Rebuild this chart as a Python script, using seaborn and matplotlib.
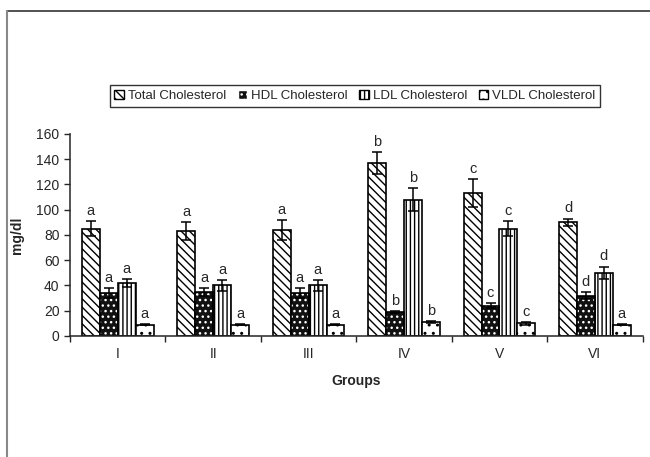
import matplotlib
matplotlib.use("Agg")
import matplotlib.pyplot as plt
import seaborn as sns
import pandas as pd
import numpy as np
from matplotlib.lines import Line2D
from matplotlib.patches import Rectangle
from matplotlib.container import BarContainer

groups = ["I", "II", "III", "IV", "V", "VI"]
lipids = ["Total Cholesterol", "HDL Cholesterol", "LDL Cholesterol", "VLDL Cholesterol"]
total_chol = [85, 83, 84, 137, 113, 90]
total_err = [6, 7, 8, 9, 11, 3]
hdl_chol = [34, 35, 34, 19, 24, 32]
hdl_err = [4, 3, 4, 1, 2, 3]
ldl_chol = [42, 40, 40, 108, 85, 50]
ldl_err = [3, 4, 4, 9, 6, 5]
vldl_chol = [9, 9, 9, 11, 10, 9]
vldl_err = [0.5, 0.5, 0.5, 1, 1, 0.5]
letters_total = ["a", "a", "a", "b", "c", "d"]
letters_hdl = ["a", "a", "a", "b", "c", "d"]
letters_ldl = ["a", "a", "a", "b", "c", "d"]
letters_vldl = ["a", "a", "a", "b", "c", "a"]

values = [total_chol, hdl_chol, ldl_chol, vldl_chol]
errors = [total_err, hdl_err, ldl_err, vldl_err]
letters = [letters_total, letters_hdl, letters_ldl, letters_vldl]

rows = []
for li, lip in enumerate(lipids):
    for gi, g in enumerate(groups):
        rows.append({"Group": g, "Lipid": lip, "Value": values[li][gi]})
df = pd.DataFrame(rows)

sns.set_style("ticks")
plt.rcParams["font.family"] = ["Liberation Sans", "DejaVu Sans"]
plt.rcParams["hatch.linewidth"] = 1.0

fig = plt.figure(figsize=(6.5, 4.57), dpi=100)
ax = fig.add_axes([0.1077, 0.2648, 0.881, 0.442])

sns.barplot(data=df, x="Group", y="Value", hue="Lipid", order=groups, hue_order=lipids,
            palette=["white"] * 4, edgecolor="black", linewidth=1.2, width=0.75,
            errorbar=None, legend=False, ax=ax)

bar_conts = [c for c in ax.containers if isinstance(c, BarContainer)]
hatches = ["\\\\\\\\", "....", "||||", ".."]
for li, cont in enumerate(bar_conts):
    for gi, p in enumerate(cont.patches):
        if li == 1:
            p.set_facecolor("#111111")
            p.set_edgecolor("white")
            p.set_hatch("...")
            p.set_linewidth(0)
            ax.add_patch(Rectangle((p.get_x(), p.get_y()), p.get_width(), p.get_height(),
                                   fill=False, edgecolor="black", linewidth=1.2, zorder=p.get_zorder() + 0.1))
        else:
            p.set_hatch(hatches[li])
        cx = p.get_x() + p.get_width() / 2
        h = p.get_height()
        e = errors[li][gi]
        ax.errorbar(cx, h, yerr=e, fmt="none", ecolor="black", elinewidth=1.1, capsize=3.5, capthick=1.1, zorder=5)
        ax.text(cx, h + e + 2.5, letters[li][gi], ha="center", va="bottom", fontsize=10.5)

ax.set_ylim(0, 160)
ax.set_yticks(range(0, 161, 20))
ax.set_xlim(-0.5, 5.5)
ax.set_xticks(range(6))
ax.set_xticklabels(groups)
ax.set_xticks(np.arange(-0.5, 6.0, 1.0), minor=True)
ax.tick_params(axis="x", which="major", length=0, labelsize=10, pad=8)
ax.tick_params(axis="x", which="minor", length=4, width=1, direction="out")
ax.tick_params(axis="y", length=4, width=1, labelsize=10, direction="out")
for s in ["top", "right"]:
    ax.spines[s].set_visible(False)
for s in ["left", "bottom"]:
    ax.spines[s].set_linewidth(1.1)
ax.set_xlabel("Groups", fontsize=10, fontweight="bold", labelpad=9)
ax.set_ylabel("mg/dl", fontsize=10, fontweight="bold", labelpad=9)

handles = []
for li in range(4):
    if li == 1:
        handles.append(Rectangle((0, 0), 1, 1, facecolor="#111111", edgecolor="white", hatch="..."))
    else:
        handles.append(Rectangle((0, 0), 1, 1, facecolor="white", edgecolor="black", hatch=hatches[li]))
leg = fig.legend(handles, lipids, loc="center", bbox_to_anchor=(0.546, 0.79), ncol=4,
                 fontsize=9.5, frameon=True, fancybox=False, edgecolor="black",
                 handlelength=0.7, handleheight=0.7, handletextpad=0.3, columnspacing=0.9,
                 borderpad=0.35)
leg.get_frame().set_linewidth(1.0)

fig.add_artist(Line2D([7 / 650, 1.0], [1 - 11 / 457, 1 - 11 / 457], color="#333333", linewidth=1.2))
fig.add_artist(Line2D([7 / 650, 7 / 650], [0, 1 - 11 / 457], color="#888888", linewidth=1.5))

fig.savefig("out.png", dpi=100)
